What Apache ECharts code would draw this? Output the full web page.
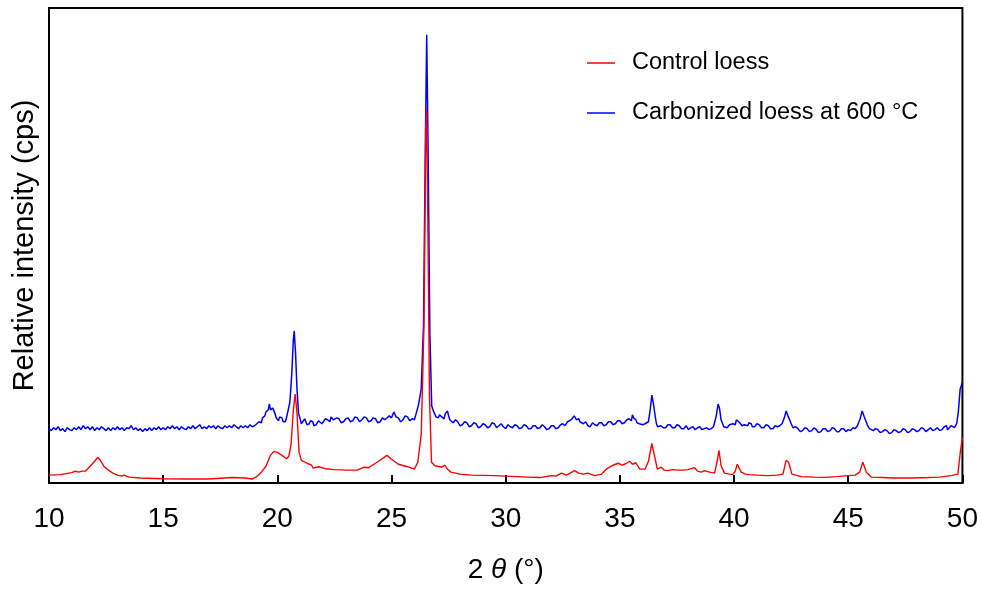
<!DOCTYPE html>
<html>
<head>
<meta charset="utf-8">
<script src="https://cdn.jsdelivr.net/npm/echarts@6/dist/echarts.min.js"></script>
<style>
  html, body { margin: 0; padding: 0; background: #fff; }
  #chart { width: 981px; height: 589px; }
</style>
</head>
<body>
<div id="chart"></div>
<script>
// XRD patterns, [2θ (°), relative intensity]
const controlLoess = [
  [10.0, 8], [10.5, 8.5], [11.0, 10.5], [11.15, 12], [11.3, 11], [11.45, 12], [11.6, 12],
  [11.8, 17], [12.0, 22], [12.13, 26], [12.25, 23], [12.4, 17], [12.6, 13], [12.8, 10],
  [13.0, 8], [13.2, 7], [13.3, 8], [13.5, 6], [14.0, 5], [15.0, 4.3], [16.0, 4], [17.0, 4],
  [18.0, 5.5], [18.6, 5], [18.9, 4], [19.1, 6.5], [19.3, 11], [19.5, 17], [19.7, 28],
  [19.85, 32], [20.0, 31], [20.2, 28], [20.4, 24.5], [20.5, 27], [20.6, 39], [20.7, 74],
  [20.78, 90], [20.86, 71], [20.95, 31], [21.05, 23], [21.3, 20], [21.5, 18], [21.57, 15],
  [21.65, 15.5], [21.8, 16.5], [22.1, 14.5], [22.5, 13.5], [23.0, 13], [23.5, 13], [23.8, 16],
  [24.0, 15.5], [24.4, 21.5], [24.8, 28], [25.0, 24], [25.3, 19], [25.7, 16.5], [26.0, 14],
  [26.15, 21], [26.3, 49], [26.42, 159], [26.5, 359], [26.53, 379], [26.58, 289], [26.66, 89],
  [26.75, 21], [26.9, 17.5], [27.2, 16], [27.33, 18], [27.45, 14], [27.6, 11], [28.0, 9],
  [28.5, 8], [29.5, 7.5], [30.5, 6.5], [31.0, 6], [31.5, 5.5], [32.0, 7.5], [32.2, 7],
  [32.44, 10], [32.66, 8], [32.9, 11], [33.02, 12.5], [33.2, 10], [33.4, 9], [33.6, 10],
  [33.9, 7.5], [34.2, 9], [34.4, 14], [34.7, 18], [34.92, 20], [35.1, 18], [35.25, 19.5],
  [35.43, 22], [35.55, 19], [35.7, 20.5], [35.87, 14], [36.1, 14], [36.25, 22], [36.4, 40],
  [36.52, 27], [36.64, 14], [36.81, 16], [36.95, 13], [37.1, 12.5], [37.3, 13.5], [37.54, 13],
  [37.8, 13], [37.98, 13.5], [38.27, 15.5], [38.4, 12], [38.56, 11], [38.7, 12.5], [38.93, 11],
  [39.15, 10], [39.25, 21], [39.34, 33], [39.43, 17.5], [39.58, 10], [39.8, 9], [39.94, 8.5],
  [40.05, 12], [40.14, 19], [40.31, 11], [40.5, 9], [40.68, 8.5], [41.0, 8], [41.48, 7.5],
  [41.9, 8], [42.14, 9], [42.28, 23], [42.39, 21], [42.53, 9], [42.94, 6.5], [43.5, 6],
  [43.96, 5.7], [44.5, 6.5], [44.98, 7.5], [45.3, 8], [45.5, 11], [45.64, 21], [45.79, 11],
  [46.01, 6], [46.5, 5.5], [47.0, 5], [47.76, 5], [48.5, 5.5], [49.0, 6], [49.5, 7.5],
  [49.8, 9], [49.91, 32], [50.0, 46]
]

const carbonizedLoess = [
  [10.0, 55], [10.1, 53], [10.2, 56], [10.3, 54], [10.4, 57], [10.5, 53], [10.6, 55], [10.7, 52],
  [10.8, 56], [10.9, 54], [11.0, 53], [11.1, 56], [11.2, 54], [11.3, 57], [11.4, 54], [11.5, 58],
  [11.6, 55], [11.7, 57], [11.8, 54], [11.9, 57], [12.0, 53], [12.1, 56], [12.2, 54], [12.3, 57],
  [12.4, 55], [12.5, 53], [12.6, 56], [12.7, 53], [12.8, 56], [12.9, 54], [13.0, 57], [13.1, 54],
  [13.2, 56], [13.3, 53], [13.4, 56], [13.5, 55], [13.6, 58], [13.7, 54], [13.8, 56], [13.9, 53],
  [14.0, 55], [14.1, 52], [14.2, 55], [14.3, 53], [14.4, 56], [14.5, 53], [14.6, 56], [14.7, 54],
  [14.8, 57], [14.9, 54], [15.0, 56], [15.1, 54], [15.2, 57], [15.3, 55], [15.4, 58], [15.5, 55],
  [15.6, 57], [15.7, 54], [15.8, 57], [15.9, 55], [16.0, 54], [16.1, 57], [16.2, 55], [16.3, 58],
  [16.4, 55], [16.5, 57], [16.6, 59], [16.7, 55], [16.8, 57], [16.9, 55], [17.0, 58], [17.1, 56],
  [17.2, 58], [17.3, 55], [17.4, 58], [17.5, 56], [17.6, 55], [17.7, 58], [17.8, 56], [17.9, 58],
  [18.0, 56], [18.1, 59], [18.2, 57], [18.3, 55], [18.4, 58], [18.5, 56], [18.6, 58], [18.7, 56],
  [18.8, 59], [18.9, 57], [19.0, 58], [19.1, 60], [19.2, 62], [19.3, 61], [19.35, 66], [19.45, 68],
  [19.5, 72], [19.6, 74], [19.65, 80], [19.7, 74], [19.75, 72], [19.8, 76], [19.85, 74],
  [19.9, 70], [19.95, 66], [20.0, 64], [20.05, 63], [20.1, 67], [20.2, 66], [20.25, 62],
  [20.35, 62], [20.4, 66], [20.45, 68], [20.55, 82], [20.63, 110], [20.7, 145], [20.74, 154],
  [20.8, 130], [20.86, 95], [20.93, 70], [21.0, 65], [21.05, 60], [21.1, 61], [21.2, 65],
  [21.25, 64], [21.3, 59], [21.4, 60], [21.45, 63], [21.55, 62], [21.6, 58], [21.7, 59],
  [21.8, 63], [21.85, 63], [21.95, 60], [22.0, 61], [22.1, 65], [22.2, 64], [22.3, 62],
  [22.35, 67], [22.45, 64], [22.5, 62], [22.6, 66], [22.7, 65], [22.8, 61], [22.9, 62],
  [23.0, 65], [23.1, 66], [23.2, 62], [23.3, 63], [23.4, 67], [23.5, 66], [23.6, 62], [23.7, 64],
  [23.8, 67], [23.9, 66], [24.0, 62], [24.1, 63], [24.2, 66], [24.3, 65], [24.4, 61], [24.5, 62],
  [24.6, 66], [24.7, 64], [24.8, 66], [24.9, 68], [25.0, 66], [25.1, 72], [25.2, 67], [25.3, 66],
  [25.4, 62], [25.5, 64], [25.6, 68], [25.7, 67], [25.8, 63], [25.9, 65], [26.0, 64], [26.05, 68],
  [26.18, 79], [26.3, 95], [26.4, 160], [26.48, 340], [26.54, 454], [26.6, 340], [26.68, 150],
  [26.76, 78], [26.85, 72], [26.9, 70], [26.95, 67], [27.05, 66], [27.1, 69], [27.2, 67],
  [27.3, 65], [27.35, 70], [27.45, 73], [27.5, 68], [27.55, 64], [27.6, 62], [27.7, 61],
  [27.8, 64], [27.9, 62], [28.0, 58], [28.1, 59], [28.2, 62], [28.3, 61], [28.4, 57], [28.5, 58],
  [28.6, 61], [28.7, 60], [28.8, 56], [28.9, 57], [29.0, 60], [29.1, 59], [29.2, 56], [29.3, 57],
  [29.4, 61], [29.5, 60], [29.6, 56], [29.7, 58], [29.8, 60], [29.9, 57], [30.0, 55], [30.1, 59],
  [30.2, 57], [30.3, 56], [30.4, 59], [30.5, 58], [30.6, 55], [30.7, 56], [30.8, 59], [30.9, 58],
  [31.0, 55], [31.1, 55], [31.2, 58], [31.3, 58], [31.4, 55], [31.5, 56], [31.6, 59], [31.7, 57],
  [31.8, 54], [31.9, 55], [32.0, 58], [32.1, 58], [32.2, 55], [32.3, 56], [32.4, 59], [32.5, 60],
  [32.6, 58], [32.7, 62], [32.8, 63], [32.9, 65], [33.0, 68], [33.05, 66], [33.1, 64],
  [33.2, 65], [33.25, 62], [33.3, 60], [33.4, 60], [33.5, 62], [33.6, 58], [33.7, 57], [33.8, 61],
  [33.9, 59], [34.0, 58], [34.1, 61], [34.2, 61], [34.3, 58], [34.4, 59], [34.5, 62], [34.6, 62],
  [34.7, 59], [34.8, 60], [34.9, 63], [35.0, 63], [35.1, 60], [35.2, 61], [35.3, 64], [35.4, 65],
  [35.5, 63], [35.55, 69], [35.6, 66], [35.7, 64], [35.75, 61], [35.85, 60], [35.9, 62],
  [36.0, 59], [36.1, 60], [36.15, 58], [36.25, 62], [36.33, 75], [36.4, 89], [36.47, 80],
  [36.55, 67], [36.6, 60], [36.65, 57], [36.7, 59], [36.8, 58], [36.9, 56], [37.0, 56], [37.1, 59],
  [37.2, 59], [37.3, 56], [37.4, 56], [37.5, 59], [37.6, 58], [37.7, 55], [37.8, 55], [37.9, 58],
  [38.0, 54], [38.1, 56], [38.2, 57], [38.3, 54], [38.4, 56], [38.5, 57], [38.6, 54], [38.7, 55],
  [38.8, 56], [38.9, 54], [39.0, 55], [39.1, 57], [39.15, 58], [39.22, 68], [39.3, 80],
  [39.36, 76], [39.43, 64], [39.5, 60], [39.55, 57], [39.6, 58], [39.7, 56], [39.8, 59],
  [39.85, 58], [39.95, 60], [40.0, 61], [40.05, 59], [40.1, 64], [40.18, 66], [40.25, 61],
  [40.3, 63], [40.35, 58], [40.45, 59], [40.5, 61], [40.6, 58], [40.65, 61], [40.75, 60],
  [40.8, 57], [40.9, 57], [41.0, 60], [41.1, 59], [41.2, 56], [41.3, 56], [41.4, 59], [41.5, 58],
  [41.6, 55], [41.7, 55], [41.8, 58], [41.9, 57], [42.0, 58], [42.1, 60], [42.2, 66], [42.28, 73],
  [42.36, 68], [42.45, 63], [42.5, 60], [42.58, 56], [42.7, 57], [42.8, 55], [42.9, 52],
  [43.0, 53], [43.1, 56], [43.2, 55], [43.3, 52], [43.4, 53], [43.5, 56], [43.6, 54], [43.7, 51],
  [43.8, 52], [43.9, 55], [44.0, 55], [44.1, 52], [44.2, 53], [44.3, 56], [44.4, 55], [44.5, 52],
  [44.6, 52], [44.7, 55], [44.8, 55], [44.9, 52], [45.0, 54], [45.1, 53], [45.2, 56], [45.3, 55],
  [45.4, 58], [45.52, 65], [45.61, 73], [45.7, 67], [45.75, 64], [45.8, 62], [45.85, 58],
  [45.93, 55], [46.0, 56], [46.1, 53], [46.2, 55], [46.3, 54], [46.4, 51], [46.5, 52], [46.6, 54],
  [46.7, 53], [46.8, 50], [46.9, 51], [47.0, 54], [47.1, 53], [47.2, 51], [47.3, 52], [47.4, 55],
  [47.5, 54], [47.6, 51], [47.7, 52], [47.8, 55], [47.9, 54], [48.0, 52], [48.1, 53], [48.2, 56],
  [48.3, 55], [48.4, 52], [48.5, 54], [48.6, 56], [48.7, 53], [48.8, 54], [48.9, 56], [49.0, 53],
  [49.1, 54], [49.2, 57], [49.3, 58], [49.35, 54], [49.4, 55], [49.5, 58], [49.55, 56],
  [49.65, 56], [49.7, 58], [49.75, 60], [49.82, 72], [49.9, 95], [50.0, 102]
]

const seriesNames = ['Control loess', 'Carbonized loess at 600 °C']
const seriesColors = ['#ff0000', '#0000ff']

const font = 'Liberation Sans, Arial, sans-serif'
const chart = echarts.init(document.getElementById('chart'), null, { renderer: 'canvas' })

chart.setOption({
  animation: false,
  textStyle: { fontFamily: font, color: '#000' },
  grid: {
    left: 49, right: 18, top: 8, bottom: 100,
    show: true, borderColor: '#000', borderWidth: 2,
  },
  legend: {
    orient: 'vertical',
    left: 582,
    top: 46,
    itemGap: 26,
    itemWidth: 28,
    itemHeight: 1.5,
    icon: 'rect',
    textStyle: { fontFamily: font, fontSize: 23.5, color: '#000', padding: [0, 0, 0, 12] },
    data: seriesNames,
  },
  xAxis: {
    type: 'value',
    min: 10,
    max: 50,
    interval: 5,
    name: '2 {i|θ} (°)',
    nameLocation: 'middle',
    nameGap: 73,
    nameTextStyle: {
      fontFamily: font, fontSize: 28, color: '#000',
      rich: { i: { fontFamily: font, fontSize: 28, fontStyle: 'italic', color: '#000' } },
    },
    axisLine: { lineStyle: { color: '#000', width: 2 } },
    axisTick: { inside: true, length: 8, lineStyle: { color: '#000', width: 2 } },
    axisLabel: { fontFamily: font, fontSize: 28, color: '#000', margin: 22 },
    splitLine: { show: false },
  },
  yAxis: {
    type: 'value',
    min: 0,
    max: 481,
    name: 'Relative intensity (cps)',
    nameLocation: 'middle',
    nameGap: 10,
    nameTextStyle: { fontFamily: font, fontSize: 29, color: '#000' },
    axisLine: { show: true, lineStyle: { color: '#000', width: 2 } },
    axisTick: { show: false },
    axisLabel: { show: false },
    splitLine: { show: false },
  },
  series: [
    {
      name: seriesNames[0],
      type: 'line',
      data: controlLoess,
      showSymbol: false,
      z: 3,
      lineStyle: { color: seriesColors[0], width: 1.4 },
      itemStyle: { color: seriesColors[0] },
    },
    {
      name: seriesNames[1],
      type: 'line',
      data: carbonizedLoess,
      showSymbol: false,
      z: 2,
      lineStyle: { color: seriesColors[1], width: 1.5 },
      itemStyle: { color: seriesColors[1] },
    },
  ],
})
</script>
</body>
</html>
